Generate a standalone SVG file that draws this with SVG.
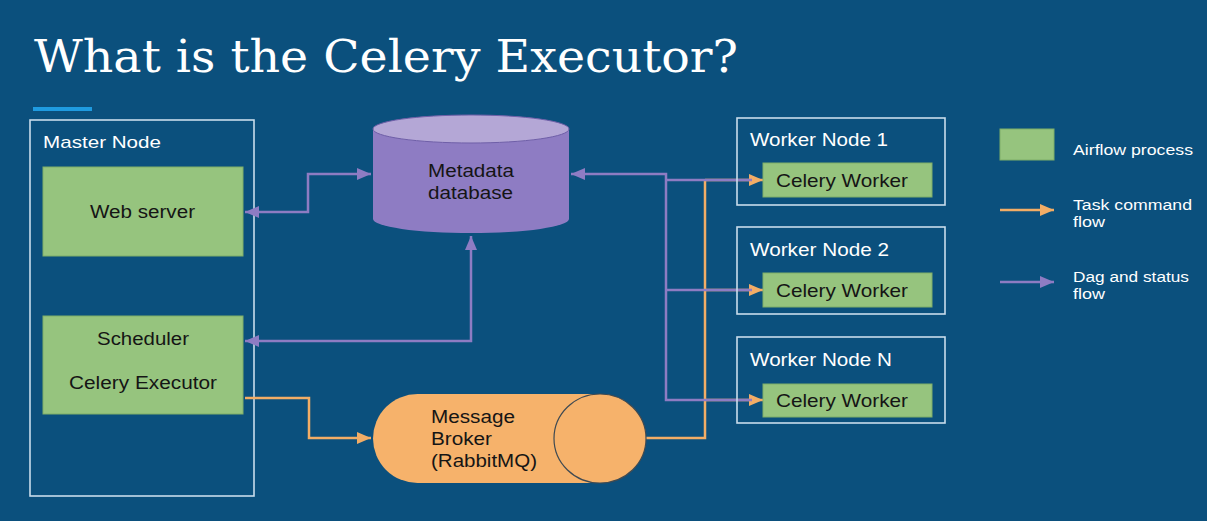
<svg xmlns="http://www.w3.org/2000/svg" width="1207" height="521" viewBox="0 0 1207 521">
<defs>
<style>
.t{font-family:"Liberation Sans",Arial,sans-serif;}
.wt{fill:#ffffff;font-size:17px;}
.wn{fill:#ffffff;font-size:18px;}
.bk{fill:#151515;font-size:17.5px;}
.cw{fill:#151515;font-size:18.5px;}
.lg{fill:#ffffff;font-size:15.5px;}
.box{fill:none;stroke:#c9dcec;stroke-width:1.6;}
.proc{fill:#96c47e;stroke:#7fae68;stroke-width:1;}
.pl{fill:none;stroke:#8e7cc3;stroke-width:2.5;}
.ol{fill:none;stroke:#f2ad66;stroke-width:2.5;}
</style>
<marker id="ap" markerUnits="userSpaceOnUse" markerWidth="15" markerHeight="12" refX="14" refY="6" orient="auto-start-reverse"><path d="M0,0 L14,6 L0,12 z" fill="#8e7cc3"/></marker>
<marker id="ao" markerUnits="userSpaceOnUse" markerWidth="15" markerHeight="12" refX="14" refY="6" orient="auto-start-reverse"><path d="M0,0 L14,6 L0,12 z" fill="#f2ad66"/></marker>
</defs>
<rect width="1207" height="521" fill="#0b507d"/>
<text x="34" y="72" font-family="'DejaVu Serif','Liberation Serif',serif" font-size="45" fill="#ffffff" textLength="704" lengthAdjust="spacingAndGlyphs">What is the Celery Executor?</text>
<rect x="33" y="107" width="59" height="4" fill="#1f9be0"/>

<g id="master-node">
<rect class="box" x="30" y="120" width="224" height="376"/>
<text class="t wt" x="43" y="148" textLength="118" lengthAdjust="spacingAndGlyphs">Master Node</text>
</g>

<g id="connectors">
<polyline class="pl" points="245,212 308,212 308,174 371,174" marker-start="url(#ap)" marker-end="url(#ap)"/>
<polyline class="pl" points="245,341 471,341 471,236" marker-start="url(#ap)" marker-end="url(#ap)"/>
<polyline class="ol" points="245,398 309,398 309,438 371,438" marker-end="url(#ao)"/>
<polyline class="ol" points="646,438 705,438 705,180"/>
<line class="ol" x1="705" y1="180" x2="763" y2="180" marker-end="url(#ao)"/>
<line class="ol" x1="705" y1="290" x2="763" y2="290" marker-end="url(#ao)"/>
<line class="ol" x1="705" y1="400" x2="763" y2="400" marker-end="url(#ao)"/>
<polyline class="pl" points="571,174 666,174 666,400 752,400" marker-start="url(#ap)"/>
<line class="pl" x1="666" y1="180" x2="752" y2="180"/>
<line class="pl" x1="666" y1="290" x2="752" y2="290"/>
<line class="ol" x1="1000" y1="210" x2="1054" y2="210" marker-end="url(#ao)"/>
<line class="pl" x1="1000" y1="282" x2="1054" y2="282" marker-end="url(#ap)"/>
</g>

<g id="web-server">
<rect class="proc" x="43" y="167" width="200" height="89"/>
<text class="t bk" x="90" y="218" textLength="105" lengthAdjust="spacingAndGlyphs">Web server</text>
</g>

<g id="scheduler">
<rect class="proc" x="43" y="316" width="200" height="98"/>
<text class="t bk" x="97" y="345" textLength="92" lengthAdjust="spacingAndGlyphs">Scheduler</text>
<text class="t bk" x="69" y="389" textLength="148" lengthAdjust="spacingAndGlyphs">Celery Executor</text>
</g>

<g id="metadata-database">
<path d="M373,129 L373,219 A98,14 0 0 0 569,219 L569,129 Z" fill="#8e7cc3"/>
<ellipse cx="471" cy="129" rx="98" ry="14" fill="#b4a7d6" stroke="#6f5fa8" stroke-width="1"/>
<text class="t bk" x="428" y="177" textLength="86" lengthAdjust="spacingAndGlyphs">Metadata</text>
<text class="t bk" x="428" y="199" textLength="85" lengthAdjust="spacingAndGlyphs">database</text>
</g>

<g id="message-broker">
<path d="M417.5,394 L600,394 A46,44.5 0 0 1 600,483 L417.5,483 A44.5,44.5 0 0 1 417.5,394 Z" fill="#f6b26b"/>
<ellipse cx="600" cy="438.5" rx="46" ry="44.5" fill="#f6b26b" stroke="#3f4a52" stroke-width="1.2"/>
<text class="t bk" x="431" y="423" textLength="84" lengthAdjust="spacingAndGlyphs">Message</text>
<text class="t bk" x="431" y="445" textLength="61" lengthAdjust="spacingAndGlyphs">Broker</text>
<text class="t bk" x="431" y="467" textLength="106" lengthAdjust="spacingAndGlyphs">(RabbitMQ)</text>
</g>

<g id="worker-node-1">
<rect class="box" x="737" y="118" width="208" height="87"/>
<text class="t wn" x="750" y="146" textLength="138" lengthAdjust="spacingAndGlyphs">Worker Node 1</text>
<rect class="proc" x="763" y="163" width="169" height="34"/>
<text class="t cw" x="776" y="187" textLength="132" lengthAdjust="spacingAndGlyphs">Celery Worker</text>
</g>

<g id="worker-node-2">
<rect class="box" x="737" y="227" width="208" height="87"/>
<text class="t wn" x="750" y="256" textLength="139" lengthAdjust="spacingAndGlyphs">Worker Node 2</text>
<rect class="proc" x="763" y="273" width="169" height="34"/>
<text class="t cw" x="776" y="297" textLength="132" lengthAdjust="spacingAndGlyphs">Celery Worker</text>
</g>

<g id="worker-node-n">
<rect class="box" x="737" y="337" width="208" height="86"/>
<text class="t wn" x="750" y="366" textLength="142" lengthAdjust="spacingAndGlyphs">Worker Node N</text>
<rect class="proc" x="763" y="384" width="169" height="33"/>
<text class="t cw" x="776" y="407" textLength="132" lengthAdjust="spacingAndGlyphs">Celery Worker</text>
</g>

<g id="legend">
<rect class="proc" x="1000" y="129" width="54" height="31"/>
<text class="t lg" x="1073" y="155" textLength="120" lengthAdjust="spacingAndGlyphs">Airflow process</text>
<text class="t lg" x="1073" y="210" textLength="119" lengthAdjust="spacingAndGlyphs">Task command</text>
<text class="t lg" x="1073" y="227" textLength="32" lengthAdjust="spacingAndGlyphs">flow</text>
<text class="t lg" x="1073" y="282" textLength="116" lengthAdjust="spacingAndGlyphs">Dag and status</text>
<text class="t lg" x="1073" y="299" textLength="32" lengthAdjust="spacingAndGlyphs">flow</text>
</g>
</svg>
